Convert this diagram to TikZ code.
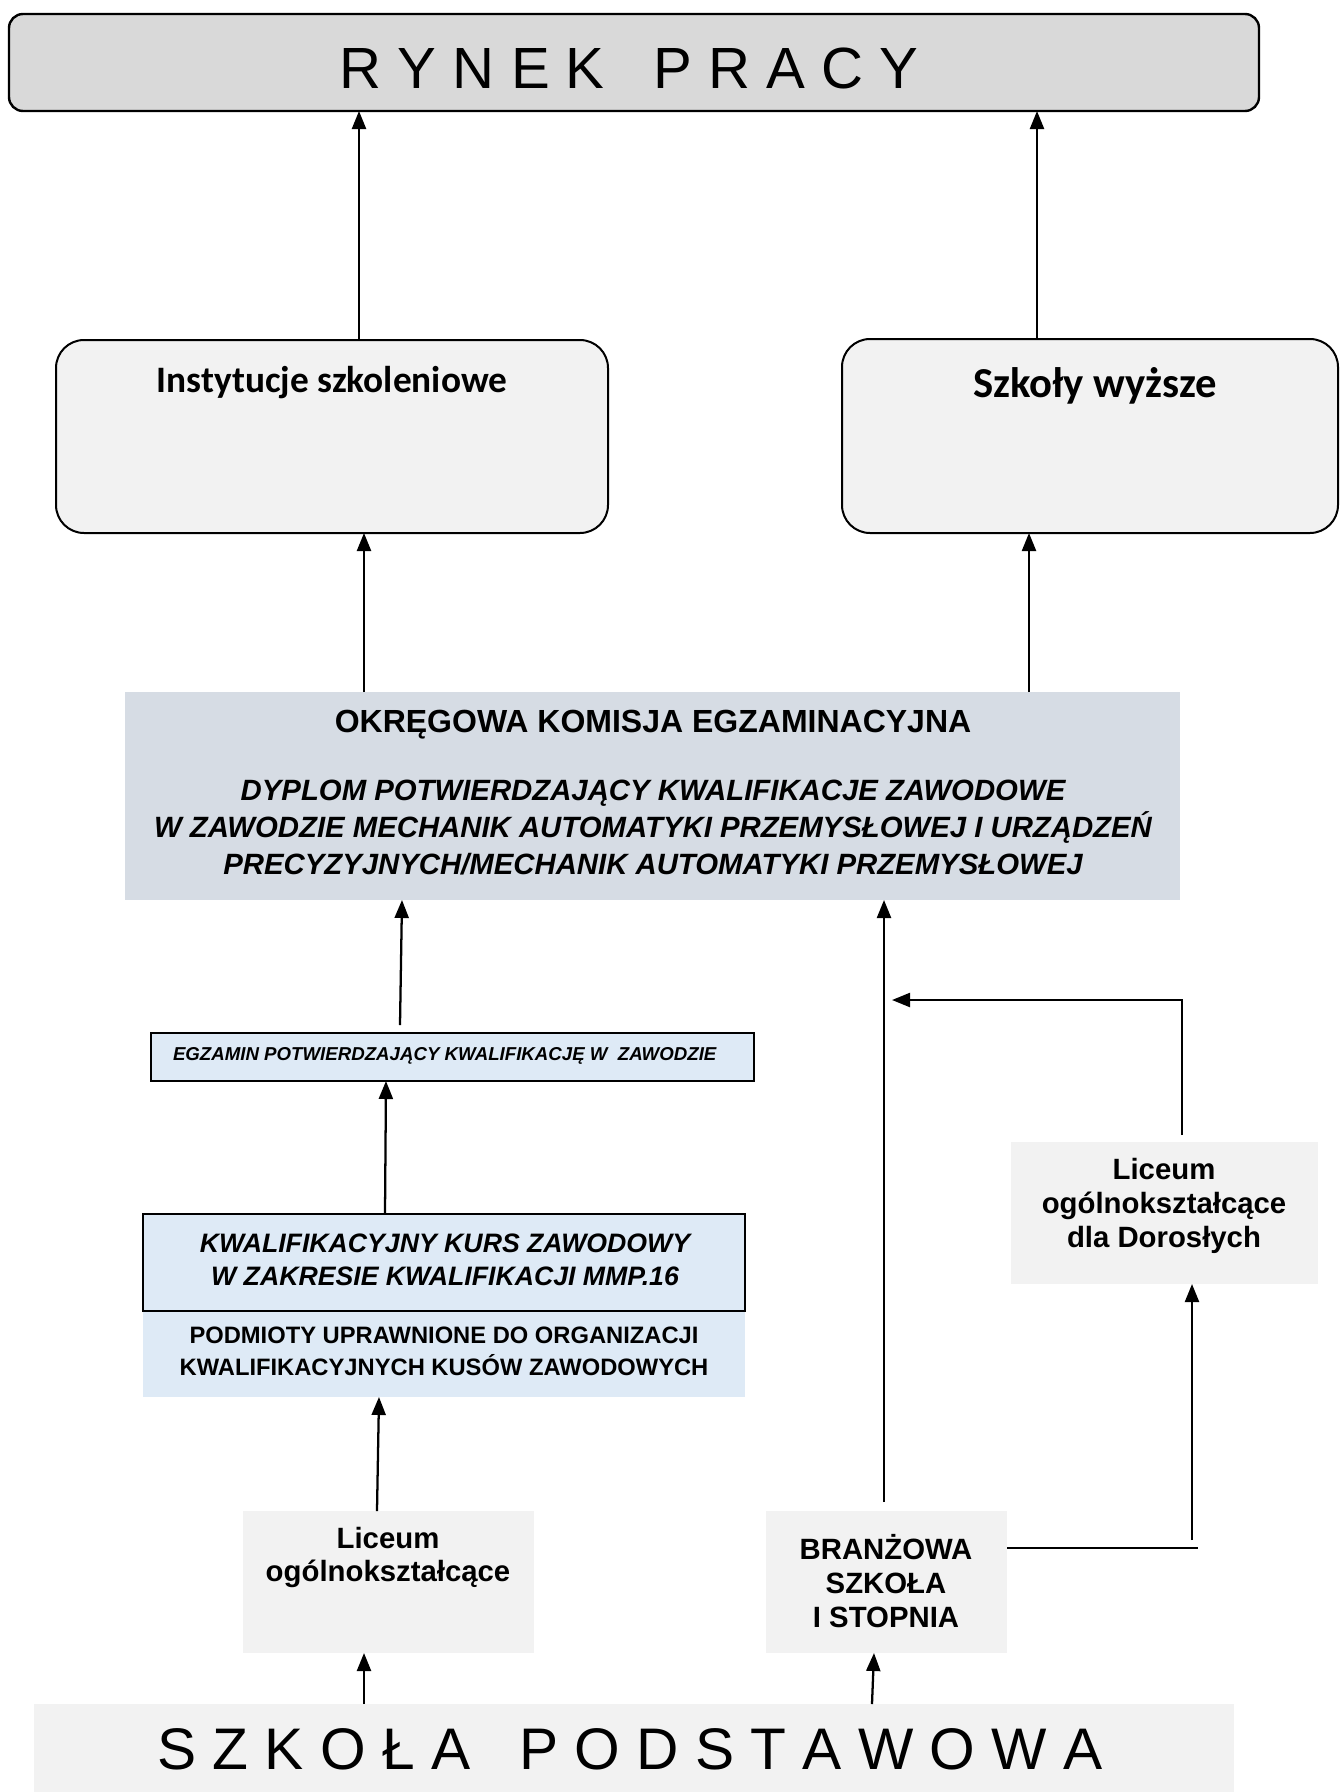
\documentclass[tikz,border=0pt]{standalone}
\usepackage{fontspec}
\setmainfont{Liberation Sans}
\newfontfamily\calib{Carlito}
\usetikzlibrary{arrows.meta,calc}
\definecolor{rpgray}{HTML}{D9D9D9}
\definecolor{boxgray}{HTML}{F2F2F2}
\definecolor{okeblue}{HTML}{D6DCE4}
\definecolor{lightblue}{HTML}{DEEAF6}
\begin{document}
\begin{tikzpicture}[x=0.75pt,y=-0.75pt,
  box/.style={inner sep=0pt, outer sep=0pt},
  rbox/.style={box, draw=black, line width=1.5pt, fill=boxgray, rounded corners=21pt},
  flat/.style={box, fill=boxgray},
  txt/.style={inner sep=0pt, outer sep=0pt, align=center},
  arr/.style={line width=1.7pt, -{Triangle[length=13.5pt,width=10.5pt]}},
  plainline/.style={line width=1.7pt}
]
\useasboundingbox (0,0) rectangle (1341,1792);
\fill[white] (0,0) rectangle (1341,1792);

% boxes
\node[box, draw=black, line width=1.8pt, fill=rpgray, rounded corners=10.5pt,
  minimum width=937.5pt, minimum height=72.75pt] (rynek) at (634,62.5) {};
\node[rbox, minimum width=414pt, minimum height=144.75pt] (inst) at (332,436.5) {};
\node[rbox, minimum width=372pt, minimum height=145.5pt] (szk) at (1090,436) {};
\node[box, fill=okeblue, minimum width=791.25pt, minimum height=156pt] (oke) at (652.5,796) {};
\node[box, draw=black, line width=1.5pt, fill=lightblue, minimum width=452.25pt, minimum height=36pt] (egz) at (452.5,1057) {};
\node[box, fill=lightblue, minimum width=451.5pt, minimum height=64.5pt] (pod) at (444,1354) {};
\node[box, draw=black, line width=1.2pt, fill=lightblue, minimum width=451.5pt, minimum height=72.75pt] (kkz) at (444,1262.5) {};
\node[flat, minimum width=218.25pt, minimum height=106.5pt] (lic) at (388.5,1582) {};
\node[flat, minimum width=180.75pt, minimum height=106.5pt] (bra) at (886.5,1582) {};
\node[flat, minimum width=230.25pt, minimum height=106.5pt] (dor) at (1164.5,1213) {};
\node[flat, minimum width=900pt, minimum height=66pt] (sp) at (634,1748) {};

% texts
\node[txt, anchor=base, font=\fontsize{43.6}{50}\selectfont] (rynek-t) at (629,88) {R Y N E K\ \ \ P R A C Y};
\node[txt, anchor=base, font=\calib\bfseries\fontsize{28}{34}\selectfont] (inst-t) at (332,392) {Instytucje szkoleniowe};
\node[txt, anchor=base, font=\calib\bfseries\fontsize{32}{38}\selectfont] (szk-t) at (1095,397) {Szkoły wyższe};
\node[txt, anchor=base, font=\bfseries\fontsize{24}{28}\selectfont] (oke-t) at (653,732) {OKRĘGOWA KOMISJA EGZAMINACYJNA};
\node[txt, anchor=base, font=\bfseries\itshape\fontsize{22}{27.5}\selectfont] (dyp-t) at (653,874) {DYPLOM POTWIERDZAJĄCY KWALIFIKACJE ZAWODOWE\\W ZAWODZIE MECHANIK AUTOMATYKI PRZEMYSŁOWEJ I URZĄDZEŃ\\PRECYZYJNYCH/MECHANIK AUTOMATYKI PRZEMYSŁOWEJ};
\node[txt, anchor=base west, font=\bfseries\itshape\fontsize{14}{17}\selectfont] (egz-t) at (173,1060) {EGZAMIN POTWIERDZAJĄCY KWALIFIKACJĘ W\ \ ZAWODZIE};
\node[txt, anchor=base, font=\bfseries\itshape\fontsize{20}{24.75}\selectfont] (kkz-t) at (445,1285) {KWALIFIKACYJNY KURS ZAWODOWY\\W ZAKRESIE KWALIFIKACJI MMP.16};
\node[txt, anchor=base, font=\bfseries\fontsize{17.8}{24}\selectfont] (pod-t) at (444,1375) {PODMIOTY UPRAWNIONE DO ORGANIZACJI\\KWALIFIKACYJNYCH KUSÓW ZAWODOWYCH};
\node[txt, anchor=base, font=\bfseries\fontsize{22}{24.75}\selectfont] (lic-t) at (388,1581) {Liceum\\ogólnokształcące};
\node[txt, anchor=base, font=\bfseries\fontsize{22}{25.5}\selectfont] (bra-t) at (886,1627) {BRANŻOWA\\SZKOŁA\\I STOPNIA};
\node[txt, anchor=base, font=\bfseries\fontsize{22}{25.5}\selectfont] (dor-t) at (1164,1247) {Liceum\\ogólnokształcące\\dla Dorosłych};
\node[txt, anchor=base, font=\fontsize{44}{50}\selectfont] (sp-t) at (630,1769) {S Z K O Ł A\ \ \ P O D S T A W O W A};

% connectors
\draw[arr] ($(inst.north)+(27,0)$) -- ($(rynek.south)+(-275,0)$);
\draw[arr] ($(szk.north)+(-53,0)$) -- ($(rynek.south)+(403,0)$);
\draw[arr] ($(oke.north)+(-288.5,0)$) -- ($(inst.south)+(32,0)$);
\draw[arr] ($(oke.north)+(376.5,0)$) -- ($(szk.south)+(-61,0)$);
\draw[arr] ($(egz.north)+(-52.5,-8)$) -- ($(oke.south)+(-250.5,0)$);
\draw[arr] ($(kkz.north)+(-59,0)$) -- ($(egz.south)+(-66.5,0)$);
\draw[arr] ($(lic.north)+(-11.5,0)$) -- ($(pod.south)+(-65,0)$);
\draw[arr] ($(bra.north)+(-2.5,-9)$) -- ($(oke.south)+(231.5,0)$);
\coordinate (jn) at (892,1000);
\draw[arr] ($(dor.north)+(17.5,-7)$) |- (jn);
\coordinate (hj) at (1198,1548);
\draw[plainline] ($(bra.east)+(0,-34)$) -- (hj);
\draw[arr] ($(dor.south)+(27.5,256)$) -- ($(dor.south)+(27.5,0)$);
\draw[arr] ($(sp.north)+(-270,0)$) -- ($(lic.south)+(-24.5,0)$);
\draw[arr] ($(sp.north)+(238,0)$) -- ($(bra.south)+(-12.5,0)$);
\end{tikzpicture}
\end{document}
